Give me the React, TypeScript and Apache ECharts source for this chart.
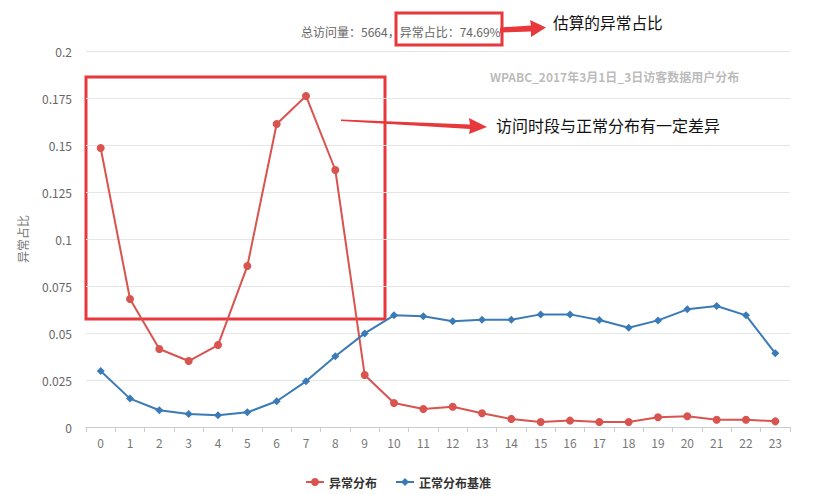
import React, { useEffect, useRef } from "react";
import * as echarts from "echarts";

const hours = ["0","1","2","3","4","5","6","7","8","9","10","11","12","13","14","15","16","17","18","19","20","21","22","23"];
const abnormal = [0.1484,0.0681,0.0415,0.0351,0.0436,0.0856,0.1612,0.1761,0.1367,0.0277,0.0128,0.0096,0.0108,0.0073,0.0043,0.0027,0.0034,0.0027,0.0027,0.0052,0.0057,0.0039,0.0039,0.0030];
const baseline = [0.0298,0.0151,0.0089,0.0069,0.0062,0.0078,0.0137,0.0243,0.0376,0.0498,0.0594,0.0589,0.0562,0.0571,0.0571,0.0599,0.0599,0.0569,0.0528,0.0567,0.0626,0.0644,0.0594,0.0392];
const seriesNames = ["异常分布", "正常分布基准"];
const totalVisits = 5664;
const abnormalRatio = "74.69%";
const yAxisName = "异常占比";
const note1 = "估算的异常占比";
const note2 = "访问时段与正常分布有一定差异";
const blurredText = "WPABC_2017年3月1日_3日访客数据用户分布";

const FONT = "'Noto Sans CJK SC', 'Noto Sans', sans-serif";
const RED = "#d9534f";
const BLUE = "#3a7ab6";
const MARK = "#e8383b";

export default function App() {
  const ref = useRef<HTMLDivElement>(null);
  useEffect(() => {
    document.body.style.margin = "0";
    if (!ref.current) return;
    const chart = echarts.init(ref.current, undefined, { renderer: "svg" });
    chart.setOption({
      animation: false,
      textStyle: { fontFamily: FONT },
      title: {
        text: `总访问量：${totalVisits}，异常占比：${abnormalRatio}`,
        left: 296,
        top: 20,
        textStyle: { fontSize: 12, fontWeight: "normal", color: "#666", fontFamily: FONT },
      },
      legend: {
        data: seriesNames,
        left: 300,
        top: 471,
        itemWidth: 18,
        itemHeight: 10,
        itemGap: 18,
        textStyle: { fontSize: 12, fontWeight: "bold", color: "#333", fontFamily: FONT },
      },
      grid: { left: 86, right: 26, top: 51, bottom: 67 },
      xAxis: {
        type: "category",
        data: hours,
        boundaryGap: true,
        axisLine: { lineStyle: { color: "#ccc" } },
        axisTick: { show: true, lineStyle: { color: "#ccc" }, length: 5 },
        axisLabel: { color: "#777", fontSize: 12, margin: 9 },
      },
      yAxis: {
        type: "value",
        min: 0,
        max: 0.2,
        interval: 0.025,
        name: yAxisName,
        nameLocation: "middle",
        nameGap: 58,
        nameTextStyle: { color: "#777", fontSize: 12 },
        axisLine: { show: false },
        axisTick: { show: false },
        axisLabel: { color: "#666", fontSize: 12, margin: 14 },
        splitLine: { lineStyle: { color: "#e6e6e6" } },
      },
      series: [
        {
          name: seriesNames[0],
          type: "line",
          data: abnormal,
          symbol: "circle",
          symbolSize: 8,
          lineStyle: { color: RED, width: 2 },
          itemStyle: { color: RED },
        },
        {
          name: seriesNames[1],
          type: "line",
          data: baseline,
          symbol: "diamond",
          symbolSize: 8,
          lineStyle: { color: BLUE, width: 2 },
          itemStyle: { color: BLUE },
        },
      ],
      graphic: [
        {
          type: "text",
          x: 490,
          y: 70,
          style: {
            text: blurredText,
            font: `bold 12px ${FONT}`,
            fill: "rgba(100,100,100,0.45)",
            shadowBlur: 6,
            shadowColor: "rgba(90,90,90,0.8)",
          },
        },
        {
          type: "rect",
          shape: { x: 86, y: 77, width: 299, height: 242 },
          style: { fill: "none", stroke: MARK, lineWidth: 3 },
        },
        {
          type: "rect",
          shape: { x: 396, y: 13, width: 106, height: 32 },
          style: { fill: "none", stroke: MARK, lineWidth: 3 },
        },
        {
          type: "polygon",
          shape: { points: [[500, 27.5], [531, 25.5], [530, 20], [546, 27.5], [531, 37], [531, 31.5], [500, 32.5]] },
          style: { fill: MARK },
        },
        {
          type: "polygon",
          shape: { points: [[341, 119.5], [470, 124.5], [469, 118], [487, 127], [469, 134], [470, 129], [341, 121]] },
          style: { fill: MARK },
        },
        {
          type: "text",
          x: 553,
          y: 15,
          style: { text: note1, font: `15.7px ${FONT}`, fill: "#111" },
        },
        {
          type: "text",
          x: 496,
          y: 117,
          style: { text: note2, font: `16px ${FONT}`, fill: "#111" },
        },
      ],
    });
    return () => chart.dispose();
  }, []);
  return <div ref={ref} style={{ width: 816, height: 494 }} />;
}
